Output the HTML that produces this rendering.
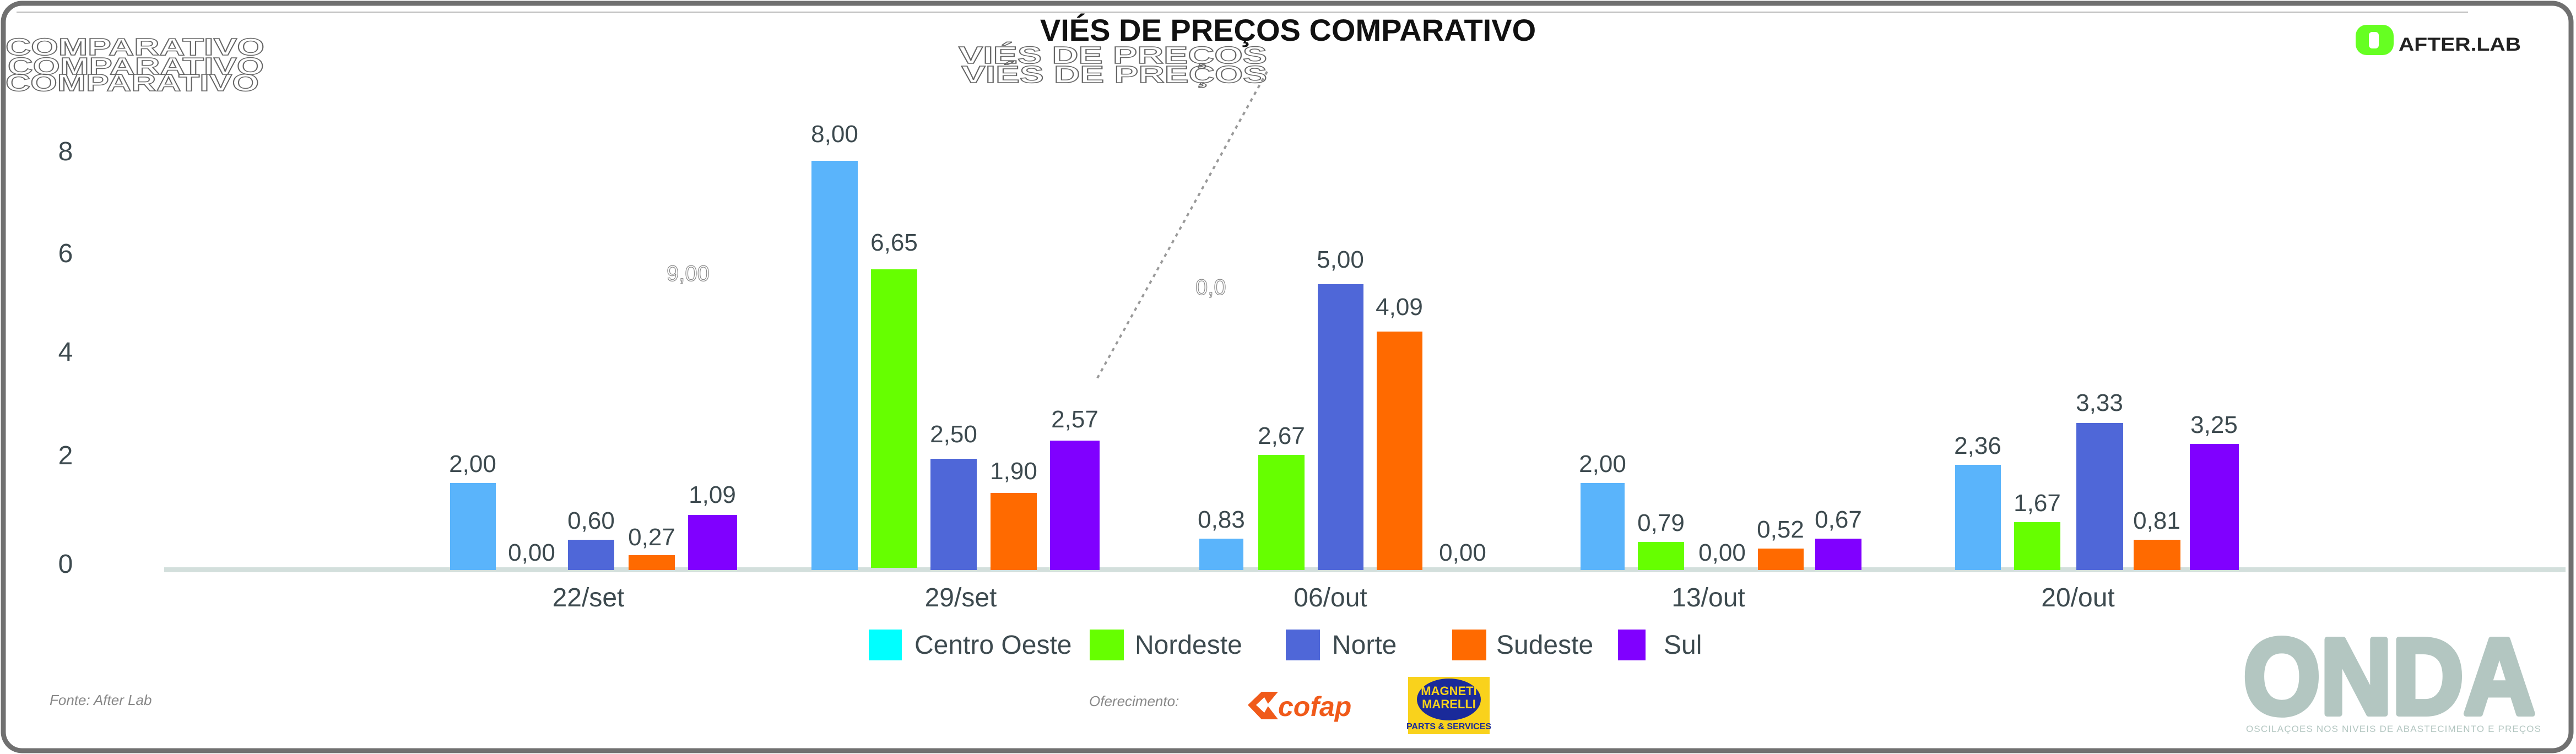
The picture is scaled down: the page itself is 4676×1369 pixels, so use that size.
<!DOCTYPE html>
<html><head><meta charset="utf-8"><style>
html,body{margin:0;padding:0;background:#fff;}
svg{display:block;}
text{font-family:"Liberation Sans",sans-serif;}
</style></head><body>
<svg width="4676" height="1369" viewBox="0 0 4676 1369" xmlns="http://www.w3.org/2000/svg">
<rect x="0" y="0" width="4676" height="1369" fill="#fff"/>
<rect x="6" y="6" width="4661" height="1357" rx="34" fill="none" stroke="#707070" stroke-width="9"/>
<line x1="30" y1="22" x2="4480" y2="22" stroke="#bbb" stroke-width="2"/>

<!-- ghost texts -->
<g fill="none" stroke="#666" stroke-width="1.5" font-weight="bold" font-size="44">
<text x="10" y="100" textLength="470" lengthAdjust="spacingAndGlyphs">COMPARATIVO</text>
<text x="14" y="135" textLength="465" lengthAdjust="spacingAndGlyphs">COMPARATIVO</text>
<text x="10" y="165" textLength="460" lengthAdjust="spacingAndGlyphs">COMPARATIVO</text>
<text x="1740" y="115" textLength="560" lengthAdjust="spacingAndGlyphs">VIÉS DE PREÇOS</text>
<text x="1745" y="150" textLength="555" lengthAdjust="spacingAndGlyphs">VIÉS DE PREÇOS</text>
</g>
<g fill="none" stroke="#888" stroke-width="1.2" font-size="40">
<text x="1210" y="510">9,00</text>
<text x="2170" y="535">0,0</text>
</g>
<line x1="2300" y1="130" x2="1990" y2="690" stroke="#999" stroke-width="4" stroke-dasharray="6,8"/>

<!-- title -->
<text x="2338" y="74" text-anchor="middle" font-size="56" font-weight="bold" fill="#111">VIÉS DE PREÇOS COMPARATIVO</text>

<!-- AfterLab logo -->
<rect x="4276" y="45" width="69" height="55" rx="20" fill="#66ff22"/>
<rect x="4300" y="58" width="18" height="30" rx="6" fill="#fff"/>
<text x="4354" y="92" font-size="34" font-weight="bold" fill="#222" textLength="222" lengthAdjust="spacingAndGlyphs">AFTER.LAB</text>

<!-- y axis labels -->
<g font-size="48" fill="#3d4a4f" text-anchor="middle">
<text x="119" y="291">8</text>
<text x="119" y="476">6</text>
<text x="119" y="655">4</text>
<text x="119" y="843">2</text>
<text x="119" y="1040">0</text>
</g>

<!-- axis line -->
<rect x="298" y="1030" width="4359" height="9" fill="#d3dfdc"/>

<!-- bars -->
<g>
<rect x="817" y="877" width="83" height="158" fill="#5ab4fb"/>
<rect x="1031" y="980" width="84" height="55" fill="#4f67d8"/>
<rect x="1141" y="1008" width="84" height="27" fill="#ff6a00"/>
<rect x="1249" y="935" width="89" height="100" fill="#8000ff"/>

<rect x="1473" y="292" width="84" height="743" fill="#5ab4fb"/>
<rect x="1581" y="489" width="84" height="542" fill="#66ff00"/>
<rect x="1689" y="833" width="84" height="202" fill="#4f67d8"/>
<rect x="1798" y="895" width="84" height="140" fill="#ff6a00"/>
<rect x="1906" y="800" width="90" height="235" fill="#8000ff"/>

<rect x="2177" y="978" width="80" height="57" fill="#5ab4fb"/>
<rect x="2284" y="826" width="84" height="209" fill="#66ff00"/>
<rect x="2392" y="516" width="83" height="519" fill="#4f67d8"/>
<rect x="2499" y="602" width="83" height="433" fill="#ff6a00"/>

<rect x="2869" y="877" width="80" height="158" fill="#5ab4fb"/>
<rect x="2973" y="984" width="84" height="51" fill="#66ff00"/>
<rect x="3191" y="996" width="83" height="39" fill="#ff6a00"/>
<rect x="3295" y="978" width="84" height="57" fill="#8000ff"/>

<rect x="3549" y="844" width="83" height="191" fill="#5ab4fb"/>
<rect x="3656" y="948" width="84" height="87" fill="#66ff00"/>
<rect x="3769" y="768" width="85" height="267" fill="#4f67d8"/>
<rect x="3873" y="980" width="85" height="55" fill="#ff6a00"/>
<rect x="3975" y="806" width="89" height="229" fill="#8000ff"/>
</g>

<!-- value labels -->
<g font-size="44" fill="#3d4a4f" text-anchor="middle">
<text x="858" y="857">2,00</text>
<text x="965" y="1018">0,00</text>
<text x="1073" y="960">0,60</text>
<text x="1183" y="990">0,27</text>
<text x="1293" y="913">1,09</text>

<text x="1515" y="258">8,00</text>
<text x="1623" y="455">6,65</text>
<text x="1731" y="803">2,50</text>
<text x="1840" y="870">1,90</text>
<text x="1951" y="776">2,57</text>

<text x="2217" y="958">0,83</text>
<text x="2326" y="806">2,67</text>
<text x="2433" y="486">5,00</text>
<text x="2540" y="572">4,09</text>
<text x="2655" y="1018">0,00</text>

<text x="2909" y="857">2,00</text>
<text x="3015" y="964">0,79</text>
<text x="3126" y="1018">0,00</text>
<text x="3232" y="976">0,52</text>
<text x="3337" y="958">0,67</text>

<text x="3590" y="824">2,36</text>
<text x="3698" y="928">1,67</text>
<text x="3811" y="746">3,33</text>
<text x="3915" y="960">0,81</text>
<text x="4019" y="786">3,25</text>
</g>

<!-- x labels -->
<g font-size="48" fill="#3d4a4f" text-anchor="middle">
<text x="1068" y="1101">22/set</text>
<text x="1744" y="1101">29/set</text>
<text x="2415" y="1101">06/out</text>
<text x="3101" y="1101">13/out</text>
<text x="3772" y="1101">20/out</text>
</g>

<!-- legend -->
<g font-size="48" fill="#3d4a4f">
<rect x="1577" y="1143" width="60" height="56" fill="#00ffff"/>
<text x="1660" y="1187">Centro Oeste</text>
<rect x="1978" y="1143" width="62" height="56" fill="#66ff00"/>
<text x="2060" y="1187">Nordeste</text>
<rect x="2334" y="1143" width="62" height="56" fill="#4f67d8"/>
<text x="2418" y="1187">Norte</text>
<rect x="2636" y="1143" width="62" height="56" fill="#ff6a00"/>
<text x="2716" y="1187">Sudeste</text>
<rect x="2937" y="1143" width="50" height="56" fill="#8000ff"/>
<text x="3020" y="1187">Sul</text>
</g>

<!-- footer -->
<text x="90" y="1280" font-size="26" font-style="italic" fill="#888">Fonte: After Lab</text>
<text x="1977" y="1282" font-size="26" font-style="italic" fill="#888">Oferecimento:</text>
<polygon points="2265,1280 2290,1256 2320,1256 2300,1280 2320,1306 2290,1306" fill="#f05a1a"/>
<polygon points="2280,1280 2295,1266 2303,1280 2295,1294" fill="#fff"/>
<text x="2320" y="1300" font-size="50" font-weight="bold" font-style="italic" fill="#f05a1a">cofap</text>
<rect x="2556" y="1229" width="148" height="104" fill="#f9d21c"/>
<ellipse cx="2630" cy="1270" rx="58" ry="38" fill="#1a2a9a"/>
<text x="2630" y="1262" font-size="22" font-weight="bold" fill="#f9d21c" text-anchor="middle">MAGNETI</text>
<text x="2630" y="1286" font-size="22" font-weight="bold" fill="#f9d21c" text-anchor="middle">MARELLI</text>
<text x="2630" y="1324" font-size="16" font-weight="bold" fill="#1a2a9a" text-anchor="middle">PARTS &amp; SERVICES</text>

<text x="4072" y="1296" font-size="196" font-weight="bold" fill="#b3c6c1" stroke="#b3c6c1" stroke-width="10" stroke-linejoin="round" textLength="530" lengthAdjust="spacingAndGlyphs">ONDA</text>
<text x="4077" y="1329" font-size="17" fill="#b3c6c1" textLength="535" lengthAdjust="spacing">OSCILAÇOES NOS NIVEIS DE ABASTECIMENTO E PREÇOS</text>
</svg>
</body></html>
